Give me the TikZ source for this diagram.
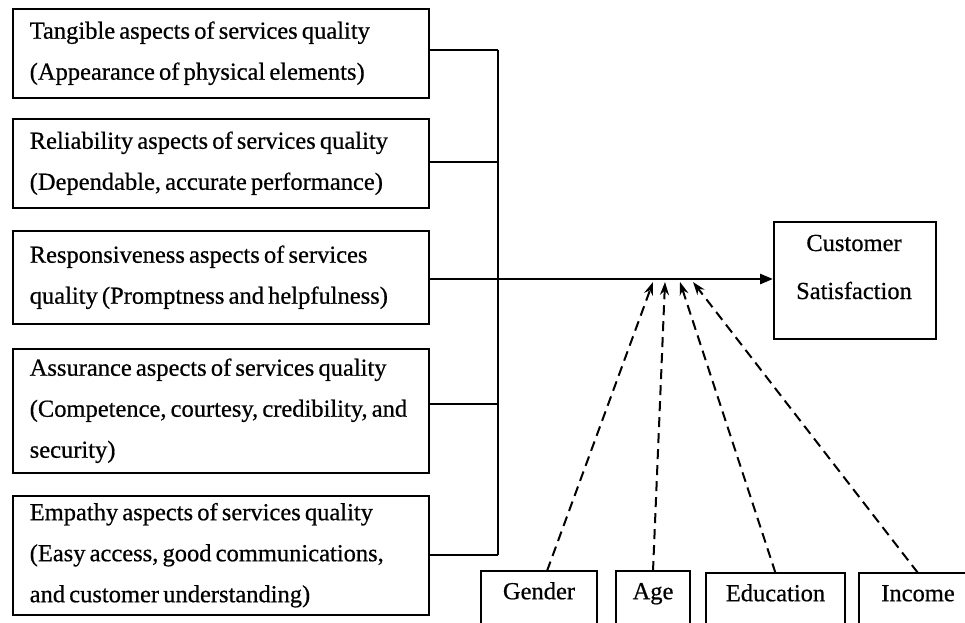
\documentclass[tikz,border=0pt]{standalone}
\usepackage{fontspec}
\setmainfont{Liberation Serif}[FakeBold=0.6]
\usetikzlibrary{arrows.meta}
\newcommand{\oneline}[1]{\mbox{\spaceskip=0.17em plus 0.05em minus 0.05em\relax #1}}
\begin{document}
\begin{tikzpicture}[x=1pt,y=-1pt,
  dimbox/.style={draw,line width=1.5pt,rectangle,anchor=north west,
    text width=382pt,inner xsep=17pt,align=left,
    font=\fontsize{24.5}{41}\selectfont},
  smallbox/.style={rectangle,anchor=north,minimum height=44pt,inner sep=0pt,
    text height=17pt,text depth=5pt,
    font=\fontsize{24.5}{28}\selectfont},
  openbox/.style={line width=1.5pt},
  bus/.style={line width=1.6pt},
  mainarrow/.style={line width=2.6pt,-{Triangle[length=13pt,width=10pt]}},
  modarrow/.style={line width=2pt,dash pattern=on 10pt off 6pt,
    -{Stealth[length=13pt,width=9pt]}}]
  \path[use as bounding box,clip] (0,0) rectangle (965,622);

  % quality dimensions
  \node[dimbox,minimum height=89pt] (tan) at (12,8)
    {\oneline{Tangible aspects of services quality}\\\oneline{(Appearance of physical elements)}};
  \node[dimbox,minimum height=89pt] (rel) at (12,118)
    {\oneline{Reliability aspects of services quality}\\\oneline{(Dependable, accurate performance)}};
  \node[dimbox,minimum height=93pt] (res) at (12,230)
    {\oneline{Responsiveness aspects of services}\\\oneline{quality (Promptness and helpfulness)}};
  \node[dimbox,minimum height=124pt] (ass) at (12,348)
    {\oneline{Assurance aspects of services quality}\\\oneline{(Competence, courtesy, credibility, and}\\\oneline{security)}};
  \node[dimbox,minimum height=119pt] (emp) at (12,495)
    {\oneline{Empathy aspects of services quality}\\\oneline{(Easy access, good communications,}\\\oneline{and customer understanding)}};

  % outcome
  \node[draw,line width=1.5pt,rectangle,anchor=north west,
    minimum width=162pt,minimum height=117pt] (cs) at (773,221) {};
  \node[align=center,font=\fontsize{24.5}{48}\selectfont] (cstext) at (854,267)
    {Customer\\Satisfaction};

  % demographic moderators
  \node[smallbox,minimum width=116pt] (gen) at (539,571) {Gender};
  \node[smallbox,minimum width=74pt] (age) at (653,571) {Age};
  \node[smallbox,minimum width=139pt] (edu) at (775.5,573) {Education};
  \node[smallbox,minimum width=118pt] (inc) at (918,573) {Income};
  \foreach \b in {gen,age,edu,inc}
    \draw[openbox] ([yshift=-30pt]\b.south west) |- (\b.north) -| ([yshift=-30pt]\b.south east);

  % collecting bus
  \coordinate (bustop) at (498,50);
  \coordinate (busbot) at (498,555);
  \draw[bus] (bustop) -- (busbot);
  \draw[bus] (tan.east |- bustop) -- (bustop);
  \draw[bus] (rel.east |- 0,162) -- (498,162);
  \draw[bus] (ass.east |- 0,404) -- (498,404);
  \draw[bus] (emp.east |- busbot) -- (busbot);
  \draw[mainarrow] (res.east |- 0,279) -- (cs.west |- 0,279);

  % moderating effects
  \coordinate (m1) at (653,282);
  \coordinate (m2) at (665,282);
  \coordinate (m3) at (680,282);
  \coordinate (m4) at (693,282);
  \draw[modarrow] ([xshift=8pt]gen.north) -- (m1);
  \draw[modarrow] (age.north) -- (m2);
  \draw[modarrow] (edu.north) -- (m3);
  \draw[modarrow] (inc.north) -- (m4);
\end{tikzpicture}
\end{document}
